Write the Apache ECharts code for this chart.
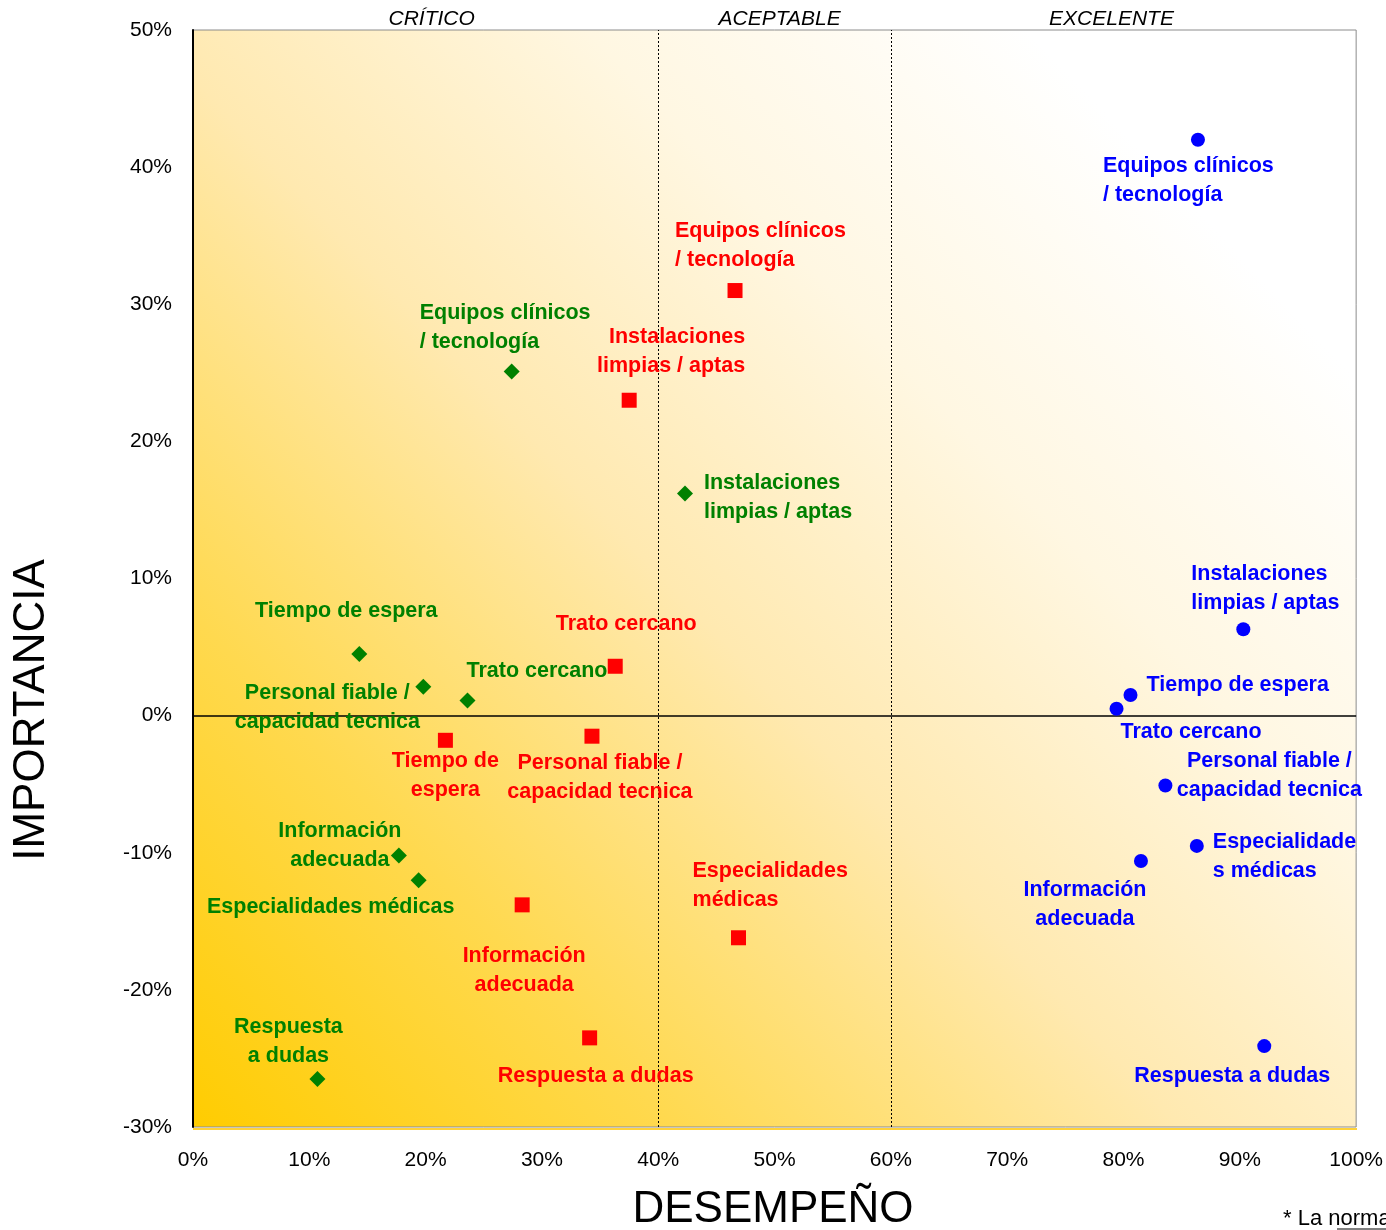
<!DOCTYPE html>
<html>
<head>
<meta charset="utf-8">
<title>Importancia vs Desempeño</title>
<script src="https://cdn.jsdelivr.net/npm/echarts@6/dist/echarts.min.js"></script>
<style>
  html, body { margin: 0; padding: 0; background: #ffffff; }
  #chart { width: 1386px; height: 1230px; }
</style>
</head>
<body>
<div id="chart"></div>
<script>
// Atributos evaluados (mismo orden en las tres series)
const categories = [
  'Equipos clínicos / tecnología',
  'Instalaciones limpias / aptas',
  'Tiempo de espera',
  'Personal fiable / capacidad tecnica',
  'Trato cercano',
  'Información adecuada',
  'Especialidades médicas',
  'Respuesta a dudas'
];

// Desempeño (%) e importancia (%) por serie
const greenDesempeno = [27.4, 42.3, 14.3, 19.8, 23.6, 17.7, 19.4, 10.7];
const greenImportancia = [25.1, 16.2, 4.5, 2.1, 1.1, -10.2, -12.0, -26.5];

const redDesempeno = [46.6, 37.5, 21.7, 34.3, 36.3, 28.3, 46.9, 34.1];
const redImportancia = [31.0, 23.0, -1.8, -1.5, 3.6, -13.8, -16.2, -23.5];

const blueDesempeno = [86.4, 90.3, 80.6, 83.6, 79.4, 81.5, 86.3, 92.1];
const blueImportancia = [42.0, 6.3, 1.5, -5.1, 0.5, -10.6, -9.5, -24.1];

// Textos de las etiquetas (con sus saltos de línea)
const greenLabels = ['Equipos clínicos\n/ tecnología', 'Instalaciones\nlimpias / aptas', 'Tiempo de espera',
  'Personal fiable /\ncapacidad tecnica', 'Trato cercano', 'Información\nadecuada',
  'Especialidades médicas', 'Respuesta\na dudas'];
const redLabels = ['Equipos clínicos\n/ tecnología', 'Instalaciones\nlimpias / aptas', 'Tiempo de\nespera',
  'Personal fiable /\ncapacidad tecnica', 'Trato cercano', 'Información\nadecuada',
  'Especialidades\nmédicas', 'Respuesta a dudas'];
const blueLabels = ['Equipos clínicos\n/ tecnología', 'Instalaciones\nlimpias / aptas', 'Tiempo de espera',
  'Personal fiable /\ncapacidad tecnica', 'Trato cercano', 'Información\nadecuada',
  'Especialidade\ns médicas', 'Respuesta a dudas'];

// Zonas de desempeño
const zoneNames = ['CRÍTICO', 'ACEPTABLE', 'EXCELENTE'];
const zoneLimits = [0, 40, 60, 100];

// Ejes
const xTicks = { min: 0, max: 100, step: 10 };
const yTicks = { min: -30, max: 50, step: 10 };

// Colocación de cada etiqueta respecto a su marca: [alineación, dx, dy]
const greenLabelLayout = [['left', -92, -44], ['left', 19, 4], ['center', -13, -43], ['center', -96, 21],
  ['left', -1, -29], ['center', -59, -10], ['center', -88, 27], ['center', -29, -37]];
const redLabelLayout = [['left', -60, -45], ['right', 116, -49], ['center', 0, 35], ['center', 8, 41],
  ['center', 11, -42], ['center', 2, 66], ['left', -46, -52], ['center', 6, 38]];
const blueLabelLayout = [['left', -95, 41], ['left', -52, -41], ['left', 16, -10], ['center', 104, -10],
  ['left', 4, 23], ['center', -56, 44], ['left', 16, 11], ['center', -32, 30]];

const FONT = '"Liberation Sans", Arial, sans-serif';

function buildPoints(xs, ys, labels, layout) {
  return xs.map((x, i) => ({
    name: categories[i],
    value: [x, ys[i]],
    label: {
      show: true,
      formatter: labels[i],
      position: 'inside',
      align: layout[i][0],
      verticalAlign: 'middle',
      offset: [layout[i][1], layout[i][2]]
    }
  }));
}

function scatter(name, color, symbol, size, points, extra) {
  return Object.assign({
    name: name,
    type: 'scatter',
    symbol: symbol,
    symbolSize: size,
    itemStyle: { color: color, opacity: 1 },
    label: {
      color: color,
      fontFamily: FONT,
      fontWeight: 'bold',
      fontSize: 21.5,
      lineHeight: 29
    },
    emphasis: { disabled: true },
    data: points,
    z: 5
  }, extra || {});
}

const chart = echarts.init(document.getElementById('chart'), null, { renderer: 'canvas' });

const gridLeft = 193, gridTop = 30, gridRight = 29, gridBottom = 103;

const option = {
  animation: false,
  backgroundColor: '#ffffff',
  grid: {
    left: gridLeft, top: gridTop, right: gridRight, bottom: gridBottom,
    show: true,
    borderColor: '#8c8c8c',
    borderWidth: 1,
    backgroundColor: {
      type: 'linear', x: 0, y: 1, x2: 1, y2: 0,
      colorStops: [
        { offset: 0, color: '#ffcc00' },
        { offset: 0.22, color: '#ffd94f' },
        { offset: 0.45, color: '#ffe9b0' },
        { offset: 0.65, color: '#fff7e2' },
        { offset: 0.85, color: '#ffffff' },
        { offset: 1, color: '#ffffff' }
      ]
    }
  },
  xAxis: {
    type: 'value',
    min: xTicks.min, max: xTicks.max, interval: xTicks.step,
    axisLine: { show: false },
    axisTick: { show: false },
    splitLine: { show: false },
    axisLabel: {
      formatter: '{value}%', margin: 23,
      fontFamily: FONT, fontSize: 21, color: '#000'
    }
  },
  yAxis: {
    type: 'value',
    min: yTicks.min, max: yTicks.max, interval: yTicks.step,
    axisLine: { show: true, onZero: false, lineStyle: { color: '#000', width: 2 } },
    axisTick: { show: false },
    splitLine: { show: false },
    axisLabel: {
      formatter: '{value}%', margin: 21,
      fontFamily: FONT, fontSize: 21, color: '#000'
    }
  },
  series: [
    scatter('Serie verde', '#008000', 'diamond', 16,
      buildPoints(greenDesempeno, greenImportancia, greenLabels, greenLabelLayout), {
        markLine: {
          silent: true,
          symbol: 'none',
          label: { show: false },
          data: [
            { xAxis: zoneLimits[1], lineStyle: { type: [2, 2], color: '#000', width: 1 } },
            { xAxis: zoneLimits[2], lineStyle: { type: [2, 2], color: '#000', width: 1 } },
            { yAxis: 0, lineStyle: { type: 'solid', color: '#000', width: 1.5 } }
          ],
          z: 2
        },
        markArea: {
          silent: true,
          itemStyle: { color: 'rgba(0,0,0,0)' },
          label: {
            show: true,
            position: 'top',
            distance: 0,
            fontFamily: FONT,
            fontStyle: 'italic',
            fontSize: 21,
            color: '#000'
          },
          data: zoneNames.map((n, i) => [
            { name: n, xAxis: zoneLimits[i], yAxis: yTicks.max,
              label: { offset: [[6, 5, -12][i], 0] } },
            { xAxis: zoneLimits[i + 1], yAxis: yTicks.min }
          ])
        }
      }),
    scatter('Serie roja', '#ff0000', 'rect', 15,
      buildPoints(redDesempeno, redImportancia, redLabels, redLabelLayout)),
    scatter('Serie azul', '#0000ff', 'circle', 14,
      buildPoints(blueDesempeno, blueImportancia, blueLabels, blueLabelLayout))
  ],
  graphic: [
    {
      // franja inferior bajo el marco del área de trazado
      type: 'rect', shape: { x: 193, y: 1128, width: 1164, height: 2 },
      style: { fill: '#ffd23a' }, silent: true
    },
    {
      type: 'text', x: 32, y: 710, rotation: Math.PI / 2,
      style: { text: 'IMPORTANCIA', font: '44px ' + FONT, fill: '#000',
        textAlign: 'center', textVerticalAlign: 'middle' }
    },
    {
      type: 'text', x: 773, y: 1210,
      style: { text: 'DESEMPEÑO', font: '44px ' + FONT, fill: '#000',
        textAlign: 'center', textVerticalAlign: 'middle' }
    },
    {
      type: 'text', x: 1283, y: 1219,
      style: { text: '* La normalización', font: '22px ' + FONT, fill: '#000',
        textAlign: 'left', textVerticalAlign: 'middle' }
    },
    {
      type: 'line', shape: { x1: 1337, y1: 1229, x2: 1386, y2: 1229 },
      style: { stroke: '#000', lineWidth: 1 }
    }
  ]
};

chart.setOption(option);
</script>
</body>
</html>
